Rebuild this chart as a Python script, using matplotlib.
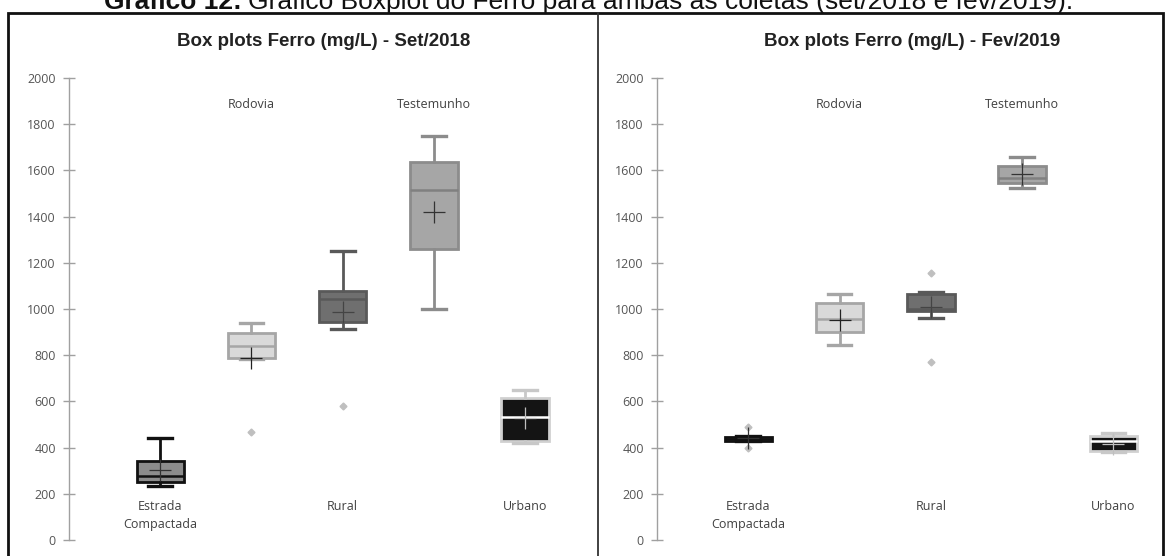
import matplotlib
matplotlib.use("Agg")
import matplotlib.pyplot as plt
from matplotlib.patches import Rectangle
from matplotlib.lines import Line2D

W, H = 1171, 556

categories = ["Estrada\nCompactada", "Rodovia", "Rural", "Testemunho", "Urbano"]
label_top = [False, True, False, True, False]

# Set/2018
set_whislo = [234, 785, 913, 1000, 420]
set_q1 = [251, 788, 944, 1260, 428]
set_med = [275, 840, 1043, 1515, 532]
set_q3 = [342, 896, 1078, 1636, 615]
set_whishi = [440, 939, 1251, 1749, 649]
set_mean = [305, 790, 987, 1420, 530]
set_fliers = [[], [467], [580], [], []]

# Fev/2019
fev_whislo = [430, 844, 961, 1524, 381]
fev_q1 = [430, 900, 991, 1545, 386]
fev_med = [438, 956, 1000, 1567, 428]
fev_q3 = [448, 1025, 1065, 1619, 450]
fev_whishi = [450, 1064, 1075, 1658, 462]
fev_mean = [440, 953, 1010, 1584, 415]
fev_fliers = [[398, 489], [], [770, 1155], [], []]

yticks = list(range(0, 2001, 200))

# face, edge, median, whisker, mean marker
styles = [
    ("#8c8c8c", "#111111", "#111111", "#111111", "#333333"),
    ("#d9d9d9", "#a6a6a6", "#a6a6a6", "#a6a6a6", "#222222"),
    ("#6f6f6f", "#595959", "#595959", "#595959", "#444444"),
    ("#a6a6a6", "#8c8c8c", "#808080", "#8c8c8c", "#333333"),
    ("#141414", "#d0d0d0", "#ffffff", "#c8c8c8", "#bfbfbf"),
]


def px(x, y):
    return x / W, 1 - y / H


def draw_panel(ax, whislo, q1, med, q3, whishi, mean, fliers, title, title_x):
    for i in range(len(categories)):
        face, edge, medc, whc, meanc = styles[i]
        st = dict(whislo=whislo[i], q1=q1[i], med=med[i], q3=q3[i],
                  whishi=whishi[i], mean=mean[i], fliers=fliers[i])
        ax.bxp([st], positions=[i + 1], widths=0.52, capwidths=0.26,
               patch_artist=True, showmeans=True, showfliers=True,
               boxprops=dict(facecolor=face, edgecolor=edge, linewidth=2),
               medianprops=dict(color=medc, linewidth=1.8),
               whiskerprops=dict(color=whc, linewidth=2),
               capprops=dict(color=whc, linewidth=2.4),
               meanprops=dict(marker="+", markersize=16, markeredgecolor=meanc,
                              markeredgewidth=0.9),
               flierprops=dict(marker="D", markersize=3.5, markerfacecolor="#bfbfbf",
                               markeredgecolor="#bfbfbf"))
        if label_top[i]:
            ax.text(i + 1, 1887, categories[i], ha="center", va="center",
                    fontsize=9, family="Open Sans", color="#404040")
        else:
            ax.text(i + 1, 172, categories[i], ha="center", va="top",
                    fontsize=9, family="Open Sans", color="#404040", linespacing=1.5)

    ax.set_ylim(0, 2000)
    ax.set_yticks(yticks)
    ax.set_xticks([])
    for s in ["top", "right", "bottom"]:
        ax.spines[s].set_visible(False)
    ax.spines["left"].set_color("#a0a0a0")
    ax.spines["left"].set_linewidth(1)
    ax.tick_params(axis="y", direction="inout", length=9, width=1, color="#a0a0a0",
                   pad=5, labelsize=9, labelcolor="#555555")
    for t in ax.get_yticklabels():
        t.set_family("Open Sans")
    ax.patch.set_alpha(0)
    ax.figure.text(*px(title_x, 41), title, ha="center", va="center",
                   fontsize=13.5, fontweight="bold", family="Liberation Sans", color="#222222")


fig = plt.figure(figsize=(W / 100, H / 100), dpi=100)
fig.patch.set_facecolor("white")

ax1 = fig.add_axes([69 / W, 16 / H, (590 - 69) / W, 462 / H])
ax1.set_xlim(0.0, 5.71)
draw_panel(ax1, set_whislo, set_q1, set_med, set_q3, set_whishi, set_mean, set_fliers,
           "Box plots Ferro (mg/L) - Set/2018", 324)

ax2 = fig.add_axes([657 / W, 16 / H, (1160 - 657) / W, 462 / H])
ax2.set_xlim(0.0, 5.51)
draw_panel(ax2, fev_whislo, fev_q1, fev_med, fev_q3, fev_whishi, fev_mean, fev_fliers,
           "Box plots Ferro (mg/L) - Fev/2019", 912)

# outer frame and divider
fig.patches.append(Rectangle(px(8, 560), (1163 - 8) / W, (560 - 13) / H, fill=False,
                             edgecolor="#111111", linewidth=2, transform=fig.transFigure))
fig.lines.append(Line2D([598 / W, 598 / W], [0, 1 - 13 / H], color="#333333",
                        linewidth=1.3, transform=fig.transFigure))

# caption (cut at top edge, as in the source)
bold = fig.text(*px(104, 9), "Gráfico 12:", ha="left", va="baseline", fontsize=19,
                fontweight="bold", family="Liberation Sans", color="#111111")
fig.canvas.draw()
bb = bold.get_window_extent()
fig.text((bb.x1 + 6) / W, 1 - 9 / H,
         "Gráfico Boxplot do Ferro para ambas as coletas (set/2018 e fev/2019).",
         ha="left", va="baseline", fontsize=19, family="Liberation Sans", color="#111111")

fig.savefig("out.png", dpi=100)
